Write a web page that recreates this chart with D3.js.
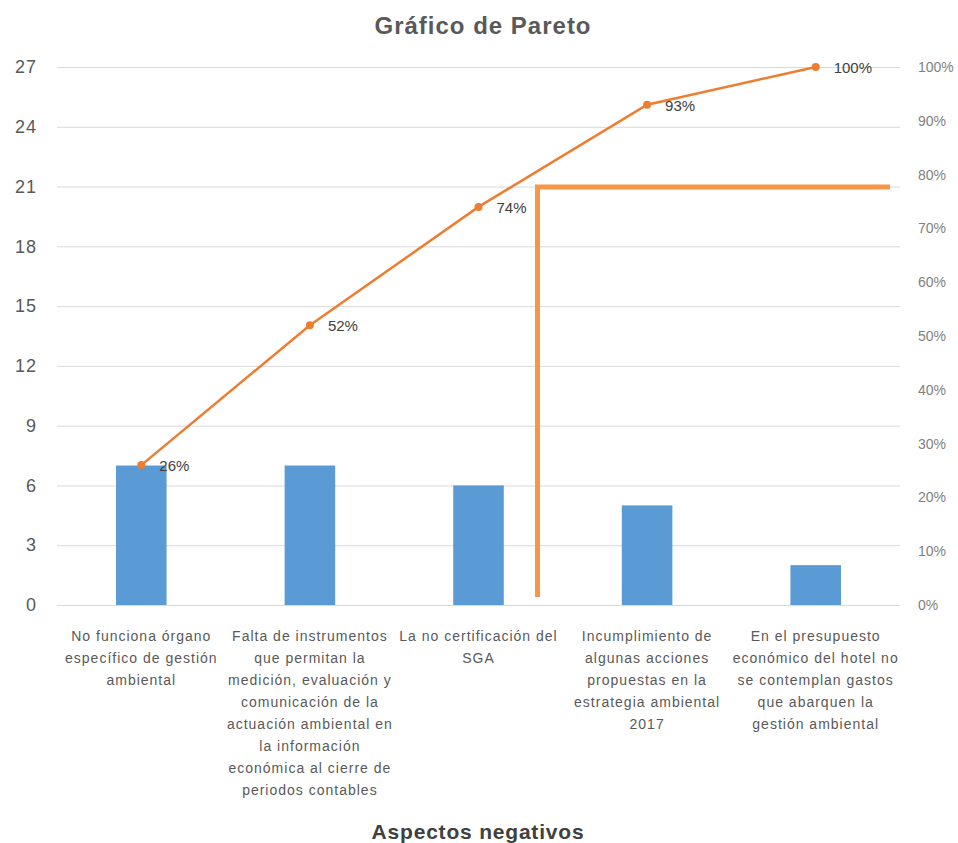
<!DOCTYPE html>
<html>
<head>
<meta charset="utf-8">
<script src="https://cdn.jsdelivr.net/npm/d3@7"></script>
<style>
  body { margin: 0; background: #fff; }
  text { font-family: "Liberation Sans", Arial, sans-serif; }
</style>
</head>
<body>
<div class="chart"></div>
<script>
// data
var categories = [
    ["No funciona órgano", "específico de gestión", "ambiental"],
    ["Falta de instrumentos", "que permitan la", "medición, evaluación y", "comunicación de la", "actuación ambiental en", "la información", "económica al cierre de", "periodos contables"],
    ["La no certificación del", "SGA"],
    ["Incumplimiento de", "algunas acciones", "propuestas en la", "estrategia ambiental", "2017"],
    ["En el presupuesto", "económico del hotel no", "se contemplan gastos", "que abarquen la", "gestión ambiental"]
];
var counts = [7, 7, 6, 5, 2];
var cumulative = [0.26, 0.52, 0.74, 0.93, 1.00];
var cumLabels = ["26%", "52%", "74%", "93%", "100%"];
var leftTicks = [0, 3, 6, 9, 12, 15, 18, 21, 24, 27];
var rightTicks = [0, 0.1, 0.2, 0.3, 0.4, 0.5, 0.6, 0.7, 0.8, 0.9, 1.0];
var cutoffLevel = 0.777;   // hand-drawn 80% cut line (right axis)
var cutoffAfter = 2;       // drawn just after third category

var width = 958, height = 843;
var margin = { top: 67, right: 58, bottom: 238, left: 57 };

var svg = d3.select(".chart").append("svg")
    .attr("width", width)
    .attr("height", height);

var x = d3.scaleBand()
    .domain(d3.range(categories.length))
    .range([margin.left, width - margin.right])
    .paddingInner(0.7)
    .paddingOuter(0.35);

var y = d3.scaleLinear().domain([0, 27]).range([height - margin.bottom, margin.top]);
var yR = d3.scaleLinear().domain([0, 1]).range([height - margin.bottom, margin.top]);

// gridlines
svg.append("g")
    .selectAll("line")
    .data(leftTicks.slice(1))
    .enter().append("line")
    .attr("x1", margin.left)
    .attr("x2", width - margin.right)
    .attr("y1", function (d) { return y(d) + 0.5; })
    .attr("y2", function (d) { return y(d) + 0.5; })
    .attr("stroke", "#d9d9d9")
    .attr("stroke-width", 1);

// left axis
var yAxis = d3.axisLeft(y).tickValues(leftTicks).tickSize(0).tickPadding(20);
svg.append("g")
    .attr("class", "y axis")
    .attr("transform", "translate(" + margin.left + ",0)")
    .call(yAxis)
    .call(function (g) { g.select(".domain").remove(); })
    .selectAll("text")
    .attr("fill", "#595959")
    .style("font-size", "18px")
    .style("letter-spacing", "1px");

// right axis
var yAxisR = d3.axisRight(yR).tickValues(rightTicks).tickSize(0).tickPadding(18)
    .tickFormat(d3.format(".0%"));
svg.append("g")
    .attr("class", "y axis right")
    .attr("transform", "translate(" + (width - margin.right) + ",0)")
    .call(yAxisR)
    .call(function (g) { g.select(".domain").remove(); })
    .selectAll("text")
    .attr("fill", "#7f7f7f")
    .style("font-size", "14px");

// bars
svg.selectAll("rect.bar")
    .data(counts)
    .enter().append("rect")
    .attr("class", "bar")
    .attr("fill", "#5b9bd5")
    .attr("x", function (d, i) { return x(i); })
    .attr("width", x.bandwidth())
    .attr("y", function (d) { return y(d); })
    .attr("height", function (d) { return y(0) - y(d); });

// baseline
svg.append("line")
    .attr("x1", margin.left).attr("x2", width - margin.right)
    .attr("y1", y(0) + 0.5).attr("y2", y(0) + 0.5)
    .attr("stroke", "#d9d9d9");

// cumulative line
var cx = function (i) { return x(i) + x.bandwidth() / 2; };
var line = d3.line()
    .x(function (d, i) { return cx(i); })
    .y(function (d) { return yR(d); });

svg.append("path")
    .datum(cumulative)
    .attr("fill", "none")
    .attr("stroke", "#ed7d31")
    .attr("stroke-width", 2.5)
    .attr("d", line);

svg.selectAll("circle.pt")
    .data(cumulative)
    .enter().append("circle")
    .attr("class", "pt")
    .attr("cx", function (d, i) { return cx(i); })
    .attr("cy", function (d) { return yR(d); })
    .attr("r", 4)
    .attr("fill", "#ed7d31");

svg.selectAll("text.pct")
    .data(cumulative)
    .enter().append("text")
    .attr("class", "pct")
    .attr("x", function (d, i) { return cx(i) + 18; })
    .attr("y", function (d) { return yR(d) + 6; })
    .attr("fill", "#404040")
    .style("font-size", "15px")
    .text(function (d, i) { return cumLabels[i]; });

// category labels
var catG = svg.selectAll("text.cat")
    .data(categories)
    .enter().append("text")
    .attr("class", "cat")
    .attr("text-anchor", "middle")
    .attr("fill", "#595959")
    .style("font-size", "14px")
    .style("letter-spacing", "1px")
    .attr("transform", function (d, i) { return "translate(" + cx(i) + "," + (y(0) + 36) + ")"; });

catG.selectAll("tspan")
    .data(function (d) { return d; })
    .enter().append("tspan")
    .attr("x", 0)
    .attr("dy", function (d, j) { return j === 0 ? 0 : 22; })
    .text(function (d) { return d; });

// hand-drawn cut line
var cutX = x(cutoffAfter) + x.bandwidth() / 2 + x.step() * 0.35;
svg.append("path")
    .attr("fill", "none")
    .attr("stroke", "#f79646")
    .attr("stroke-width", 5)
    .attr("d", "M" + cutX + "," + (y(0) - 8) +
               "V" + yR(cutoffLevel) +
               "H" + (width - margin.right - 10));

// titles
svg.append("text")
    .attr("x", 483)
    .attr("y", 34)
    .attr("text-anchor", "middle")
    .attr("fill", "#595959")
    .style("font-size", "24px")
    .style("font-weight", "bold")
    .style("letter-spacing", "1px")
    .text("Gráfico de Pareto");

svg.append("text")
    .attr("x", 478)
    .attr("y", 839)
    .attr("text-anchor", "middle")
    .attr("fill", "#404040")
    .style("font-size", "21px")
    .style("font-weight", "bold")
    .style("letter-spacing", "0.8px")
    .text("Aspectos negativos");
</script>
</body>
</html>
